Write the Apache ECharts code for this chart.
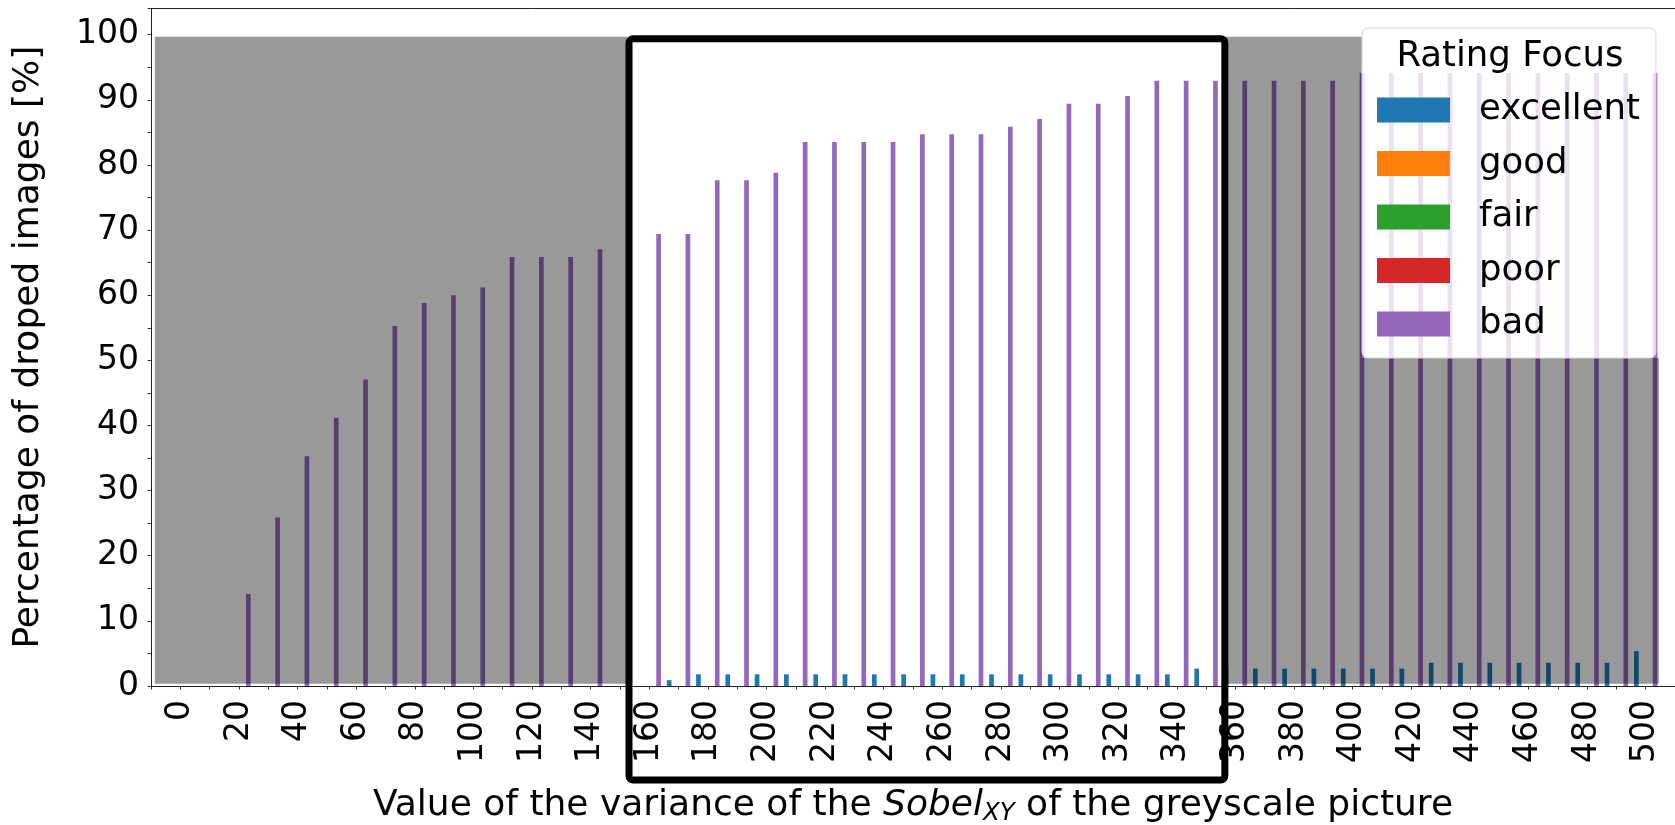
<!DOCTYPE html>
<html>
<head>
<meta charset="utf-8">
<script src="https://cdn.jsdelivr.net/npm/echarts@6/dist/echarts.min.js"></script>
<style>
  html, body { margin: 0; padding: 0; background: #fff; }
  #chart { width: 1675px; height: 825px; }
</style>
</head>
<body>
<div id="chart"></div>
<script>
// x categories (variance of Sobel_XY)
const categories = [0, 10, 20, 30, 40, 50, 60, 70, 80, 90, 100, 110, 120, 130, 140, 150, 160, 170, 180, 190,
  200, 210, 220, 230, 240, 250, 260, 270, 280, 290, 300, 310, 320, 330, 340, 350, 360, 370, 380, 390,
  400, 410, 420, 430, 440, 450, 460, 470, 480, 490, 500]

// percentage of droped images per rating
const excellent = [0, 0, 0, 0, 0, 0, 0, 0, 0, 0, 0, 0, 0, 0, 0, 0, 0, 0.89, 1.79, 1.79,
  1.79, 1.79, 1.79, 1.79, 1.79, 1.79, 1.79, 1.79, 1.79, 1.79, 1.79, 1.79, 1.79, 1.79, 1.79, 2.68, 2.68, 2.68, 2.68, 2.68,
  2.68, 2.68, 2.68, 3.57, 3.57, 3.57, 3.57, 3.57, 3.57, 3.57, 5.36]
const good = [0, 0, 0, 0, 0, 0, 0, 0, 0, 0, 0, 0, 0, 0, 0, 0, 0, 0, 0, 0,
  0, 0, 0, 0, 0, 0, 0, 0, 0, 0, 0, 0, 0, 0, 0, 0, 0, 0, 0, 0,
  0, 0, 0, 0, 0, 0, 0, 0, 0, 0, 0]
const fair = [0, 0, 0, 0, 0, 0, 0, 0, 0, 0, 0, 0, 0, 0, 0, 0, 0, 0, 0, 0,
  0, 0, 0, 0, 0, 0, 0, 0, 0, 0, 0, 0, 0, 0, 0, 0, 0, 0, 0, 0,
  0, 0, 0, 0, 0, 0, 0, 0, 0, 0, 0]
const poor = [0, 0, 0, 0, 0, 0, 0, 0, 0, 0, 0, 0, 0, 0, 0, 0, 0, 0, 0, 0,
  0, 0, 0, 0, 0, 0, 0, 0, 0, 0, 0, 0, 0, 0, 0, 0, 0, 0, 0, 0,
  0, 0, 0, 0, 0, 0, 0, 0, 0, 0, 0]
const bad = [0, 0, 14.12, 25.88, 35.29, 41.18, 47.06, 55.29, 58.82, 60.0, 61.18, 65.88, 65.88, 65.88, 67.06, 68.24, 69.41, 69.41, 77.65, 77.65,
  78.82, 83.53, 83.53, 83.53, 83.53, 84.71, 84.71, 84.71, 85.88, 87.06, 89.41, 89.41, 90.59, 92.94, 92.94, 92.94, 92.94, 92.94, 92.94, 92.94,
  94.12, 94.12, 94.12, 94.12, 94.12, 94.12, 94.12, 94.12, 94.12, 94.12, 94.12]

const seriesNames = ['excellent', 'good', 'fair', 'poor', 'bad']
const seriesValues = [excellent, good, fair, poor, bad]
const colors = ['#1f77b4', '#ff7f0e', '#2ca02c', '#d62728', '#9467bd']

// greyed-out zones [xFrom, xTo, yFrom, yTo] in axis units (category index, percent)
const greyZones = [
  [-0.87, 15.25, 0.35, 99.7],
  [35.55, 40.32, 0.35, 99.7],
  [40.32, 50.45, 0.35, 50.36]
]

const FONT = 'DejaVu Sans'
const chart = echarts.init(document.getElementById('chart'))

const barSeries = seriesNames.map((name, k) => ({
  name: name,
  type: 'bar',
  data: seriesValues[k].map((v, i) => [i, v]),
  itemStyle: { color: colors[k] },
  barGap: '0%',
  barCategoryGap: '20%',
  z: 2
}))

const option = {
  animation: false,
  textStyle: { fontFamily: FONT },
  grid: { left: 151, right: 0, top: 8.3, bottom: 139, outerBoundsMode: 'none', containLabel: false },
  legend: {
    data: seriesNames,
    orient: 'vertical',
    left: 1362,
    top: 28,
    padding: [64, 16, 16, 15],
    itemWidth: 73,
    itemHeight: 25,
    itemGap: 17.5,
    icon: 'rect',
    selectedMode: false,
    backgroundColor: 'rgba(255,255,255,0.8)',
    borderColor: '#d6d6d6',
    borderWidth: 1,
    borderRadius: 6,
    textStyle: { fontSize: 35.5, fontFamily: FONT, color: '#000', lineHeight: 36, padding: [0, 0, 0, 24] },
    z: 50
  },
  xAxis: [{
    type: 'value',
    min: -1,
    max: 51,
    interval: 1,
    name: '{n|Value of the variance of the }{i|Sobel}{s|XY}{n| of the greyscale picture}',
    nameLocation: 'middle',
    nameGap: 99,
    nameTextStyle: {
      rich: {
        n: { fontSize: 36, fontFamily: FONT, color: '#000', lineHeight: 42 },
        i: { fontSize: 36, fontFamily: FONT, color: '#000', fontStyle: 'italic', lineHeight: 42 },
        s: { fontSize: 24.5, fontFamily: FONT, color: '#000', fontStyle: 'italic', lineHeight: 42, padding: [16, 0, 0, 0] }
      }
    },
    splitLine: { show: false },
    axisLine: { show: true, onZero: false, lineStyle: { color: '#222', width: 1 } },
    axisTick: { show: true, length: 3.5, lineStyle: { color: '#333' } },
    axisLabel: {
      rotate: 90,
      margin: 14,
      fontSize: 33,
      color: '#000',
      fontFamily: FONT,
      formatter: function (v) {
        const i = Math.round(v)
        return (i >= 0 && i < categories.length && i % 2 === 0) ? String(categories[i]) : ''
      }
    }
  }, {
    type: 'value',
    position: 'top',
    min: -1,
    max: 51,
    splitLine: { show: false },
    axisLine: { show: true, onZero: false, lineStyle: { color: '#222', width: 1 } },
    axisTick: { show: false },
    axisLabel: { show: false }
  }],
  yAxis: {
    type: 'value',
    min: 0,
    max: 104.05,
    interval: 5,
    name: 'Percentage of droped images [%]',
    nameLocation: 'middle',
    nameRotate: 90,
    nameGap: 104,
    nameTextStyle: { fontSize: 36, color: '#000', fontFamily: FONT },
    splitLine: { show: false },
    axisLine: { show: true, onZero: false, lineStyle: { color: '#222', width: 1 } },
    axisTick: { show: true, length: 3.5, lineStyle: { color: '#333' } },
    axisLabel: {
      margin: 12,
      fontSize: 33,
      color: '#000',
      fontFamily: FONT,
      formatter: function (v) {
        return (Math.abs(v % 10) < 1e-6 && v <= 100) ? String(v) : ''
      }
    }
  },
  series: barSeries.concat([{
    name: 'greyZones',
    type: 'custom',
    data: greyZones,
    encode: { x: [0, 1], y: [2, 3] },
    z: 3,
    silent: true,
    renderItem: function (params, api) {
      const p0 = api.coord([api.value(0), api.value(3)])
      const p1 = api.coord([api.value(1), api.value(2)])
      return {
        type: 'rect',
        shape: { x: p0[0], y: p0[1], width: p1[0] - p0[0], height: p1[1] - p0[1] },
        style: { fill: 'rgba(0,0,0,0.4)' }
      }
    }
  }])
}

chart.setOption(option)

// highlight box and legend title
const xl = chart.convertToPixel({ xAxisIndex: 0 }, 15.31)
const xr = chart.convertToPixel({ xAxisIndex: 0 }, 35.64)
const yt = chart.convertToPixel({ yAxisIndex: 0 }, 99.37)
const y0 = chart.convertToPixel({ yAxisIndex: 0 }, 0)

chart.setOption({
  graphic: [{
    type: 'rect',
    z: 40,
    silent: true,
    shape: { x: xl, y: yt, width: xr - xl, height: y0 + 94 - yt, r: 4 },
    style: { fill: 'none', stroke: '#000', lineWidth: 7 }
  }, {
    type: 'text',
    z: 60,
    x: 1510,
    y: 57,
    style: {
      text: 'Rating Focus',
      fontSize: 35.5,
      fontFamily: FONT,
      fill: '#000',
      align: 'center',
      verticalAlign: 'middle'
    }
  }]
})

window.addEventListener('resize', () => chart.resize())
</script>
</body>
</html>
